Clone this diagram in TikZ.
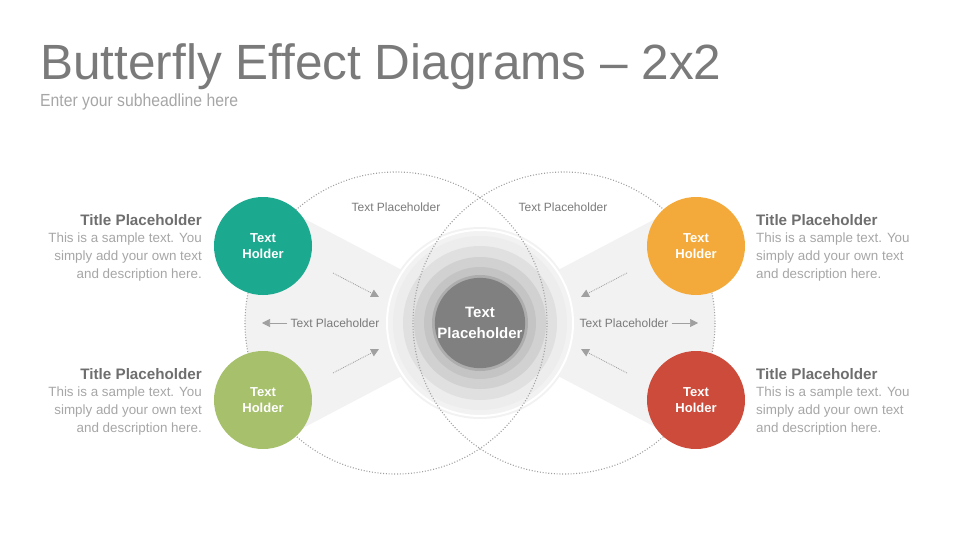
\documentclass[tikz,border=0pt]{standalone}
\usepackage{fontspec}
\setmainfont{Liberation Sans}
\newfontfamily\condfont[FakeStretch=0.9]{Liberation Sans}
\usetikzlibrary{arrows.meta,positioning}
\definecolor{teal1}{HTML}{1BAA8F}
\definecolor{green1}{HTML}{A6C06C}
\definecolor{orange1}{HTML}{F4AA3A}
\definecolor{red1}{HTML}{CD4B3B}
\definecolor{wing}{HTML}{F2F2F2}
\definecolor{txtdark}{HTML}{6E6E6E}
\definecolor{txtlight}{HTML}{A6A6A6}
\definecolor{lbl}{HTML}{7A7A7A}
\definecolor{arr}{HTML}{A0A0A0}
\tikzset{%
   holder/.style={circle, inner sep=0pt, minimum size=98pt, text=white, align=center,
     font=\fontsize{13}{16}\selectfont\bfseries},
   ring/.style={circle, inner sep=0pt, draw=none},
   orbit/.style={draw=arr, line width=1.1pt, dash pattern=on 1pt off 1.8pt},
   lbltext/.style={text=lbl, font=\fontsize{12}{14}\selectfont, inner sep=1pt},
   ttl/.style={text=txtdark, font=\fontsize{15.2}{18}\selectfont\bfseries, inner sep=0pt},
   body/.style={text=txtlight, font=\fontsize{13.4}{18}\selectfont, inner sep=0pt},
   flow/.style={draw=arr, line width=0.8pt, dash pattern=on 0.9pt off 1pt,
     -{Triangle[length=8pt,width=8pt,fill=arr,sep=0pt]}},
   push/.style={draw=arr, line width=0.7pt, -{Triangle[length=8pt,width=8pt,fill=arr]}},
}
\begin{document}
\begin{tikzpicture}[x=1pt, y=-1pt]
  \useasboundingbox (0,0) rectangle (960,540);
  % headline
  \node[anchor=base west, inner sep=0pt, text=lbl, font=\fontsize{49.5}{54}\selectfont] (head) at (40,80) {Butterfly Effect Diagrams -- 2x2};
  \node[anchor=base west, inner sep=0pt, text=txtlight, font=\condfont\fontsize{17.5}{20}\selectfont] (sub) at (40,107) {Enter your subheadline here};
  % wings
  \begin{scope}
    \clip (396,323) circle (151);
    \fill[wing] (263,197) -- (440,290) -- (440,356) -- (263,449) -- (230,449) -- (230,197) -- cycle;
  \end{scope}
  \begin{scope}
    \clip (564,323) circle (151);
    \fill[wing] (697,197) -- (520,290) -- (520,356) -- (697,449) -- (730,449) -- (730,197) -- cycle;
  \end{scope}
  % center rings
  \node[ring, fill=wing, minimum size=192pt] (r0) at (480,323) {};
  \draw[white, line width=2pt] (r0.center) circle (93);
  \node[ring, fill=black!7, minimum size=174pt] (r1) at (r0.center) {};
  \node[ring, fill=black!12, minimum size=154pt] (r2) at (r0.center) {};
  \node[ring, fill=black!18, minimum size=132pt] (r3) at (r0.center) {};
  \node[ring, fill=black!23, minimum size=112pt] (r4) at (r0.center) {};
  \node[ring, fill=black!32, minimum size=96pt] (r5) at (r0.center) {};
  \node[ring, fill=black!50, minimum size=76pt, text=white, align=center,
    font=\fontsize{15}{21}\selectfont\bfseries] (core) at (r0.center) {Text\\Placeholder};
  % dotted orbits
  \draw[orbit] (396,323) circle (151);
  \draw[orbit] (564,323) circle (151);
  % holders
  \node[holder, fill=teal1] (tl) at (263,246) {Text\\Holder};
  \node[holder, fill=green1] (bl) at (263,400) {Text\\Holder};
  \node[holder, fill=orange1] (tr) at (696,246) {Text\\Holder};
  \node[holder, fill=red1] (br) at (696,400) {Text\\Holder};
  % labels
  \node[lbltext] (lt) at (396,207) {Text Placeholder};
  \node[lbltext] (rt) at (563,207) {Text Placeholder};
  \node[lbltext] (lm) at (335,323) {Text Placeholder};
  \node[lbltext] (rm) at (624,323) {Text Placeholder};
  % arrows
  \coordinate (a1) at (333,273); \coordinate (b1) at (379,297);
  \coordinate (a2) at (333,373); \coordinate (b2) at (379,349);
  \coordinate (a3) at (627,273); \coordinate (b3) at (581,297);
  \coordinate (a4) at (627,373); \coordinate (b4) at (581,349);
  \coordinate (e1) at (262,323); \coordinate (e2) at (698,323);
  \draw[flow] (a1) -- (b1);
  \draw[flow] (a2) -- (b2);
  \draw[flow] (a3) -- (b3);
  \draw[flow] (a4) -- (b4);
  \draw[push] ([xshift=-2pt]lm.west) -- (e1);
  \draw[push] ([xshift=2pt]rm.east) -- (e2);
  % side texts
  \node[ttl, anchor=base east] (t1) at (202,225) {Title Placeholder};
  \node[body, anchor=north east, align=right] (d1) at (202,233) {This is a sample text. You\\simply add your own text\\and description here.};
  \node[ttl, anchor=base east] (t2) at (202,379) {Title Placeholder};
  \node[body, anchor=north east, align=right] (d2) at (202,387) {This is a sample text. You\\simply add your own text\\and description here.};
  \node[ttl, anchor=base west] (t3) at (756,225) {Title Placeholder};
  \node[body, anchor=north west, align=left] (d3) at (756,233) {This is a sample text. You\\simply add your own text\\and description here.};
  \node[ttl, anchor=base west] (t4) at (756,379) {Title Placeholder};
  \node[body, anchor=north west, align=left] (d4) at (756,387) {This is a sample text. You\\simply add your own text\\and description here.};
\end{tikzpicture}
\end{document}
